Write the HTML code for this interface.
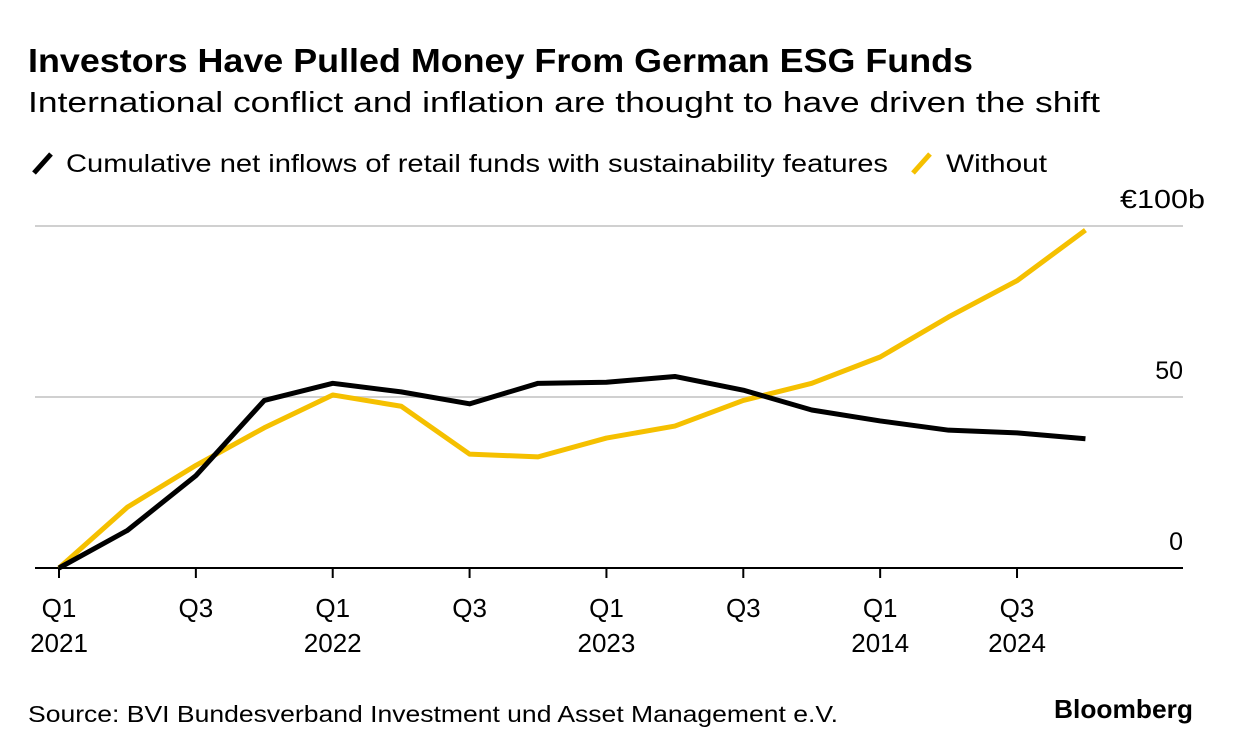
<!DOCTYPE html>
<html><head><meta charset="utf-8"><style>
body{margin:0;background:#fff;width:1233px;height:754px;overflow:hidden;font-family:"Liberation Sans",Arial,sans-serif;color:#000}
svg text{font-family:"Liberation Sans",Arial,sans-serif}
</style></head><body>
<svg width="1233" height="754" style="position:absolute;left:0;top:0" id="c">
<text x="28" y="72" font-size="33" font-weight="bold" textLength="945" lengthAdjust="spacingAndGlyphs">Investors Have Pulled Money From German ESG Funds</text>
<text x="28" y="112" font-size="29" textLength="1072" lengthAdjust="spacingAndGlyphs">International conflict and inflation are thought to have driven the shift</text>
<g>
<line x1="34" y1="173" x2="51" y2="154" stroke="#000" stroke-width="5"/>
<text x="66" y="172" font-size="25" textLength="822" lengthAdjust="spacingAndGlyphs">Cumulative net inflows of retail funds with sustainability features</text>
<line x1="913" y1="173" x2="930" y2="154" stroke="#f5c000" stroke-width="5"/>
<text x="946" y="172" font-size="25" textLength="101" lengthAdjust="spacingAndGlyphs">Without</text>
</g>
<g id="grid"></g><g id="lines"></g><g id="xl"></g>
<text x="28" y="722" font-size="23" textLength="810" lengthAdjust="spacingAndGlyphs">Source: BVI Bundesverband Investment und Asset Management e.V.</text>
<text x="1054" y="718" font-size="26" font-weight="bold" textLength="139" lengthAdjust="spacingAndGlyphs">Bloomberg</text>
</svg>
<script>
const yTicks=[0,50,100];
const yTickLabels=["0","50","€100b"];
const inflows=[0,11,27,49,54,51.5,48,54,54.3,56,52,46.2,43,40.3,39.5,37.8];
const without=[0,17.8,30,41,50.6,47.3,33.3,32.5,38,41.5,49,54,61.7,73.4,84,98.8];
const xLabelIdx=[0,2,4,6,8,10,12,14];
const xLabels1=["Q1","Q3","Q1","Q3","Q1","Q3","Q1","Q3"];
const xLabels2=["2021","","2022","","2023","","2014","2024"];
const NS="http://www.w3.org/2000/svg";
const X=i=>59+i*68.43, Y=v=>568-v*3.42;
function mk(t,a,p){const e=document.createElementNS(NS,t);for(const k in a)e.setAttribute(k,a[k]);p.appendChild(e);return e;}
const g=document.getElementById('grid');
yTicks.forEach((v,i)=>{
 const l=mk('line',{x1:35,x2:1183,y1:Y(v),y2:Y(v),stroke:v==0?'#000':'#d0d0d0','stroke-width':2},g);
 
 
 const a={x:v==100?1205:1183,y:Y(v)-18,'text-anchor':'end','font-size':v==100?26:25};
 if(v==100){a.textLength=85;a.lengthAdjust='spacingAndGlyphs';}
 const t=mk('text',a,g);t.textContent=yTickLabels[i];
 
 
});
const ln=document.getElementById('lines');
[[without,'#f5c000','line-without'],[inflows,'#000','line-inflows']].forEach(([d,c,n])=>{
 const p=mk('polyline',{points:d.map((v,i)=>X(i)+','+Y(v)).join(' '),fill:'none',stroke:c,'stroke-width':5,'stroke-linejoin':'round'},ln);
 
 
});
const xl=document.getElementById('xl');
xLabelIdx.forEach((q,i)=>{
 const tk=mk('line',{x1:X(q),x2:X(q),y1:568,y2:578,stroke:'#000','stroke-width':2},xl);
 
 
 const t=mk('text',{x:X(q),y:617,'text-anchor':'middle','font-size':26},xl);t.textContent=xLabels1[i];
 
 
 if(xLabels2[i]){const t2=mk('text',{x:X(q),y:652,'text-anchor':'middle','font-size':26},xl);t2.textContent=xLabels2[i];
 
 }
});
</script>
</body></html>
